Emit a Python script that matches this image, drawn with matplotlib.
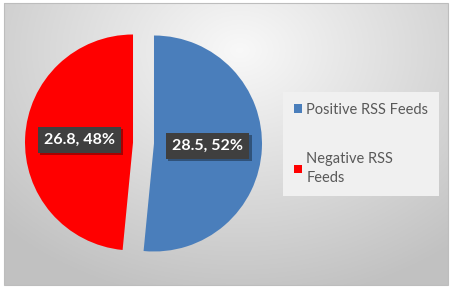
import numpy as np
import matplotlib
matplotlib.use("Agg")
import matplotlib.pyplot as plt
from matplotlib.patches import Patch, Rectangle
import matplotlib.patheffects as pe

categories = ["Positive RSS Feeds", "Negative RSS\nFeeds"]
values = [28.5, 26.8]
colors = ["#4a7ebb", "#ff0000"]

W, H = 454, 291
fig = plt.figure(figsize=(W / 100, H / 100), dpi=100)
fig.patch.set_facecolor("white")
ax = fig.add_axes([0, 0, 1, 1])
ax.set_xlim(0, W)
ax.set_ylim(0, H)
ax.axis("off")

# radial gradient background
x0, x1, y0, y1 = 4, 448, 6, 288
xs = np.linspace(x0, x1, 300)
ys = np.linspace(y1, y0, 200)
X, Y = np.meshgrid(xs, ys)
cx, cy = 240, 291 - 50
d = np.sqrt((X - cx) ** 2 + ((Y - cy) * 1.3) ** 2)
t = np.clip(d / 330, 0, 1)
g = 0.975 - (0.975 - 0.76) * t
img = np.dstack([g, g, g])
ax.imshow(img, extent=[x0, x1, y0, y1], origin="upper", aspect="auto", zorder=0)
ax.add_patch(Rectangle((x0, y0), x1 - x0, y1 - y0, fill=False, ec="#bdbdbd", lw=0.8, zorder=1))

total = sum(values)

def fmt(p):
    v = p * total / 100
    return f"{v:.1f}, {p:.0f}%"

R = 108
wedges, texts, autotexts = ax.pie(
    values, colors=colors, startangle=90, counterclock=False,
    explode=[10.5, 10.5], radius=R, center=(143.5, 148),
    autopct=fmt, pctdistance=0.5, frame=True,
    wedgeprops=dict(linewidth=0),
    textprops=dict(color="white", fontsize=11.5, fontweight="bold", family="Lato"),
)
for w in wedges:
    w.set_zorder(2)
for at in autotexts:
    at.set_zorder(4)
    at.set_bbox(dict(boxstyle="square,pad=0.38", fc="#3f3f3f", ec="none"))
    at.get_bbox_patch().set_path_effects(
        [pe.SimplePatchShadow(offset=(1.5, -1.5), shadow_rgbFace="black", alpha=0.35), pe.Normal()])

ax.set_xlim(0, W)
ax.set_ylim(0, H)
ax.set_aspect("auto")
ax.axis("off")

handles = [Patch(facecolor=c, edgecolor="none") for c in colors]
leg = ax.legend(handles, categories, loc="upper left",
                bbox_to_anchor=(283 / W, 1 - 92 / H), bbox_transform=fig.transFigure,
                borderaxespad=0,
                frameon=True, fancybox=False, facecolor="#f0f0f0", edgecolor="none", framealpha=1,
                handlelength=0.55, handleheight=0.55, handletextpad=0.3,
                labelspacing=2.4, borderpad=0.75,
                prop=dict(family="Lato", size=10.5))
for t in leg.get_texts():
    t.set_color("#595959")
    t.set_linespacing(1.5)

fig.savefig("out.png", dpi=100)
